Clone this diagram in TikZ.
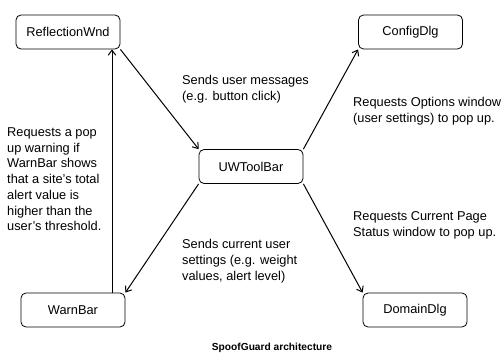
\documentclass[tikz,border=0pt]{standalone}
\usepackage{fontspec}
\setmainfont{Liberation Sans}
\usetikzlibrary{arrows.meta}
\tikzset{
  comp/.style={draw, line width=0.8pt, rounded corners=5pt, minimum width=104pt,
    minimum height=34pt, inner sep=0pt, font=\fontsize{12.8}{15.7}\selectfont},
  note/.style={anchor=north west, inner sep=0pt, align=left,
    font=\fontsize{12.8}{15.7}\selectfont},
  msg/.style={line width=1pt, -{Straight Barb[length=5pt,width=7.5pt]}},
}
\begin{document}
\begin{tikzpicture}[x=1pt,y=-1pt]
\useasboundingbox (0,0) rectangle (502,353);

% components
\node[comp] (refl) at (68,32) {ReflectionWnd};
\node[comp] (cfg) at (410.5,32) {ConfigDlg};
\node[comp] (uwt) at (251,166.5) {UWToolBar};
\node[comp] (warn) at (73,310) {WarnBar};
\node[comp] (dom) at (415,310) {DomainDlg};

% message flow
\draw[msg] (refl.south east) -- (uwt.north west);
\draw[msg] (uwt.north east) -- (cfg.south west);
\draw[msg] (uwt.south east) -- (dom.north west);
\draw[msg] (uwt.south west) -- (warn.north east);
\coordinate (upx) at (112,0);
\draw[msg] (warn.north -| upx) -- (refl.south -| upx);

% descriptions
\node[note] (t1) at (182,75) {Sends user messages\\(e.g. button click)};
\node[note] (t2) at (353,97.5) {Requests Options window\\(user settings) to pop up.};
\node[note] (t3) at (7,127.5) {Requests a pop\\up warning if\\WarnBar shows\\that a site's total\\alert value is\\higher than the\\user's threshold.};
\node[note] (t4) at (182,239.5) {Sends current user\\settings (e.g. weight\\values, alert level)};
\node[note] (t5) at (353,211.5) {Requests Current Page\\Status window to pop up.};

% caption
\node[anchor=north, inner sep=0pt, font=\fontsize{10.2}{12}\selectfont\bfseries] (cap) at (272,342.5) {SpoofGuard architecture};
\end{tikzpicture}
\end{document}
